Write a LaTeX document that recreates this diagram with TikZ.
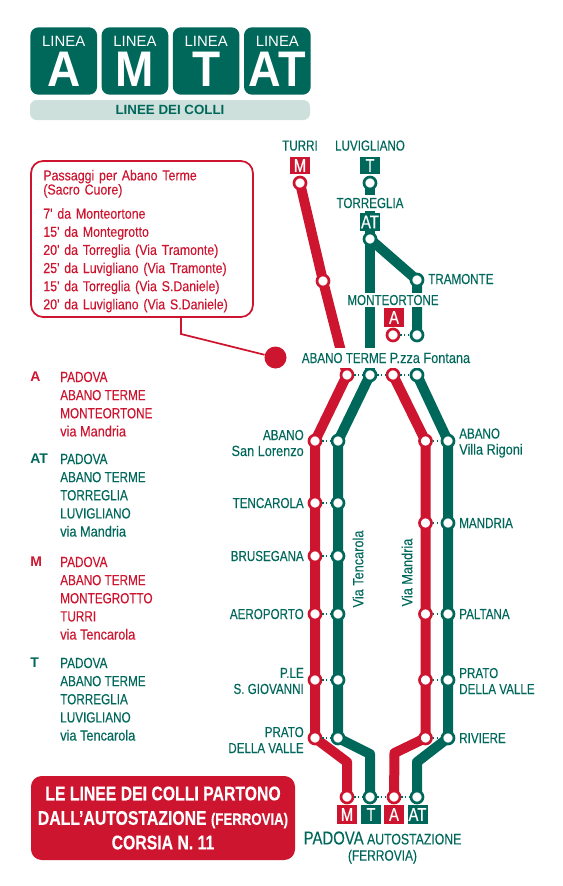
\documentclass[tikz,border=0pt]{standalone}
\usepackage{fontspec}
\setmainfont[FakeStretch=0.8, FakeBold=0.25]{Liberation Sans}
\newfontfamily\widefont{Liberation Sans}
\newfontfamily\narrowfont[FakeStretch=0.86, FakeBold=0.2]{Liberation Sans}
\newcommand{\lowtxt}{\narrowfont\fontsize{11.1}{12}\selectfont}
\usetikzlibrary{positioning, backgrounds}
\definecolor{mygreen}{RGB}{0,104,91}
\definecolor{myred}{RGB}{206,21,48}
\definecolor{mypale}{RGB}{205,224,220}
\tikzset{
  topbox/.style={rectangle, fill=mygreen, rounded corners=6pt, minimum width=50pt, minimum height=50.5pt, inner sep=0pt},
  toplbl/.style={text=white, font=\widefont\fontsize{11.2}{12}\selectfont, inner sep=0pt},
  topletter/.style={text=white, font=\widefont\bfseries\fontsize{37.5}{37.5}\selectfont, inner sep=0pt, xscale=0.92},
  barbox/.style={rectangle, fill=mypale, rounded corners=5pt, minimum width=210pt, minimum height=15pt, inner sep=0pt,
    text=mygreen, font=\widefont\bfseries\fontsize{10}{10}\selectfont},
  redline/.style={line width=7.5pt, color=myred, line join=round},
  greenline/.style={line width=7.5pt, color=mygreen, line join=round},
  redstop/.style={circle, draw=myred, fill=white, line width=2pt, minimum size=9pt, inner sep=0pt},
  greenstop/.style={circle, draw=mygreen, fill=white, line width=2pt, minimum size=9pt, inner sep=0pt},
  link/.style={color=mygreen, line width=0.9pt, dotted},
  redtag/.style={rectangle, fill=myred, text=white, minimum width=15pt, minimum height=14pt, inner sep=0pt, font=\fontsize{14}{14}\selectfont},
  greentag/.style={rectangle, fill=mygreen, text=white, minimum width=15pt, minimum height=14pt, inner sep=0pt, font=\fontsize{14}{14}\selectfont},
  lbl/.style={text=mygreen, inner sep=0pt, align=center, font=\fontsize{10.9}{12}\selectfont},
  lbll/.style={lbl, align=right, anchor=east},
  lblr/.style={lbl, align=left, anchor=west},
  mask/.style={lbl, fill=white},
  legend/.style={inner sep=0pt, align=left, anchor=north west, font=\fontsize{11}{13.6}\selectfont},
  legletter/.style={inner sep=0pt, anchor=north west, font=\widefont\bfseries\fontsize{10.5}{13.6}\selectfont},
  callout/.style={rectangle, draw=myred, fill=white, line width=1.3pt, rounded corners=9pt, minimum height=117pt,
    text=myred, align=left, inner xsep=9.2pt, inner ysep=0pt, text width=148pt, font=\narrowfont\fontsize{10.8}{13.6}\selectfont}
}
\begin{document}
\begin{tikzpicture}[x=0.75pt, y=-0.75pt]
  \path[use as bounding box] (0,0) rectangle (562,886);

  % Header
  \node[topbox] (boxa) at (63.75,61) {};
  \node[topbox, right=3pt of boxa] (boxm) {};
  \node[topbox, right=3pt of boxm] (boxt) {};
  \node[topbox, right=3pt of boxt] (boxat) {};
  \node[toplbl, below=6.5pt of boxa.north] (la) {LINEA};
  \node[toplbl, below=6.5pt of boxm.north] (lm) {LINEA};
  \node[toplbl, below=6.5pt of boxt.north] (lt) {LINEA};
  \node[toplbl, below=6.5pt of boxat.north] (lat) {LINEA};
  \node[topletter, below=3.6pt of la] (a) {A};
  \node[topletter, below=3.6pt of lm] (m) {M};
  \node[topletter, below=3.6pt of lt] (t) {T};
  \node[topletter, below=3.6pt of lat, xscale=0.98] (at) {AT};
  \node[barbox] (bar) at (170,110) {LINEE DEI COLLI};

  % Upper branches
  \node[redstop] (turri) at (300,183) {};
  \node[redstop] (mid) at (323,281) {};
  \node[greenstop] (luv) at (370,183) {};
  \node[greenstop] (torr) at (370,239) {};
  \node[greenstop] (tram) at (417,280) {};
  \node[redstop] (mont) at (393,335) {};
  \node[greenstop] (montg) at (417,335) {};

  % Abano Terme
  \node[redstop] (ab1) at (347,375) {};
  \node[greenstop] (ab2) at (370,375) {};
  \node[redstop] (ab3) at (393,375) {};
  \node[greenstop] (ab4) at (417,375) {};

  % Via Tencarola
  \node[redstop] (lr1) at (315,441) {};
  \node[redstop] (lr2) at (315,503) {};
  \node[redstop] (lr3) at (315,556) {};
  \node[redstop] (lr4) at (315,614) {};
  \node[redstop] (lr5) at (315,680) {};
  \node[redstop] (lr6) at (315,738) {};
  \node[greenstop] (lg1) at (338,441) {};
  \node[greenstop] (lg2) at (338,503) {};
  \node[greenstop] (lg3) at (338,556) {};
  \node[greenstop] (lg4) at (338,614) {};
  \node[greenstop] (lg5) at (338,680) {};
  \node[greenstop] (lg6) at (338,738) {};

  % Via Mandria
  \node[redstop] (rr1) at (425.5,441) {};
  \node[redstop] (rr2) at (425.5,523) {};
  \node[redstop] (rr3) at (425.5,614) {};
  \node[redstop] (rr4) at (425.5,680) {};
  \node[redstop] (rr5) at (425.5,738) {};
  \node[greenstop] (rg1) at (448,441) {};
  \node[greenstop] (rg2) at (448,523) {};
  \node[greenstop] (rg3) at (448,614) {};
  \node[greenstop] (rg4) at (448,680) {};
  \node[greenstop] (rg5) at (448,738) {};

  % Padova
  \node[redstop] (pm) at (347,797) {};
  \node[greenstop] (pt) at (370,797) {};
  \node[redstop] (pa) at (394,797) {};
  \node[greenstop] (pat) at (417,797) {};

  % Tags
  \node[redtag, minimum height=13pt] (tagm) at (300,165.5) {M};
  \node[greentag, minimum height=13pt] (tagt) at (370,165.5) {T};
  \node[greentag] (tagat) at (370,222) {AT};
  \node[redtag] (taga) at (394,317.5) {A};
  \node[redtag] (tagpm) at (347,814.5) {M};
  \node[greentag] (tagpt) at (371,814.5) {T};
  \node[redtag] (tagpa) at (394,814.5) {A};
  \node[greentag] (tagpat) at (417.5,814.5) {AT};

  % Station names
  \node[lbl, above=4.2pt of tagm] (nturri) {TURRI};
  \node[lbl, above=4.2pt of tagt] (nluv) {LUVIGLIANO};
  \node[mask, minimum height=12pt] (ntorr) at (370,203) {TORREGLIA};
  \node[lblr] (ntram) at (428,279) {TRAMONTE};
  \node[mask, minimum height=10.5pt] (nmont) at (393,300) {MONTEORTONE};
  \node[mask, minimum height=15pt] (nabano) at (386,358) {ABANO TERME {\lowtxt P.zza Fontana}};
  \node[lbll] (nl1) at (304,443) {ABANO\\{\lowtxt San Lorenzo}};
  \node[lbll] (nl2) at (304,503) {TENCAROLA};
  \node[lbll] (nl3) at (304,556) {BRUSEGANA};
  \node[lbll] (nl4) at (304,614) {AEROPORTO};
  \node[lbll] (nl5) at (304,681) {P.LE\\S. GIOVANNI};
  \node[lbll] (nl6) at (304,740) {PRATO\\DELLA VALLE};
  \node[lblr] (nr1) at (459,443) {ABANO\\{\lowtxt Villa Rigoni}};
  \node[lblr] (nr2) at (459,523) {MANDRIA};
  \node[lblr] (nr3) at (459,614) {PALTANA};
  \node[lblr] (nr4) at (459,681) {PRATO\\DELLA VALLE};
  \node[lblr] (nr5) at (459,738) {RIVIERE};
  \node[lbl, rotate=90] (viat) at (358,569) {\lowtxt Via Tencarola};
  \node[lbl, rotate=90] (viam) at (407,572.5) {\lowtxt Via Mandria};
  \node[lbl, font=\fontsize{11.5}{13}\selectfont] (npad) at (382.5,838) {{\fontsize{14}{14}\selectfont PADOVA} AUTOSTAZIONE};
  \node[lbl, below=3.5pt of npad, font=\fontsize{11.2}{13}\selectfont] (nferr) {(FERROVIA)};

  % Lines
  \begin{scope}[on background layer]
    \draw[redline] (turri.center) -- (mid.center) -- (ab1.center);
    \draw[greenline] (luv.center) -- (torr.center) -- (ab2.center);
    \draw[greenline] (torr.center) -- (tram.center) -- (montg.center);
    \draw[redline] (ab1.center) -- (lr1.center) -- (lr6.center) -- ++(32,24) coordinate (bend1) -- (pm.center);
    \draw[greenline] (ab2.center) -- (lg1.center) -- (lg6.center) -- ++(32,16) coordinate (bend2) -- (pt.center);
    \draw[redline] (ab3.center) -- (rr1.center) -- (rr5.center) -- ++(-31,15) coordinate (bend3) -- (pa.center);
    \draw[greenline] (ab4.center) -- (rg1.center) -- (rg5.center) -- ++(-31,24) coordinate (bend4) -- (pat.center);
  \end{scope}

  % Dotted links
  \draw[link] (mont) -- (montg);
  \draw[link] (ab1) -- (ab2);
  \draw[link] (ab2) -- (ab3);
  \draw[link] (ab3) -- (ab4);
  \draw[link] (lr1) -- (lg1);
  \draw[link] (lr2) -- (lg2);
  \draw[link] (lr3) -- (lg3);
  \draw[link] (lr4) -- (lg4);
  \draw[link] (lr5) -- (lg5);
  \draw[link] (lr6) -- (lg6);
  \draw[link] (rr1) -- (rg1);
  \draw[link] (rr2) -- (rg2);
  \draw[link] (rr3) -- (rg3);
  \draw[link] (rr4) -- (rg4);
  \draw[link] (rr5) -- (rg5);
  \draw[link] (pm) -- (pt);
  \draw[link] (pt) -- (pa);
  \draw[link] (pa) -- (pat);

  % Info box
  \node[callout] (info) at (142,239) {\rule{0pt}{11pt}Passaggi per Abano Terme\\[-3pt](Sacro Cuore)\\[4.5pt]7' da Monteortone\\15' da Montegrotto\\20' da Torreglia (Via Tramonte)\\25' da Luvigliano (Via Tramonte)\\15' da Torreglia (Via S.Daniele)\\20' da Luvigliano (Via S.Daniele)};
  \node[circle, fill=myred, minimum size=16.5pt, inner sep=0pt] (spot) at (275.5,357.5) {};
  \coordinate (elbow) at (181,334);
  \draw[myred, line width=1.3pt] (181,317) -- (elbow) -- (spot);

  % Legend
  \node[legletter, text=myred] (kay) at (30,372) {A};
  \node[legend, text=myred] (keya) at (60,371.5) {PADOVA\\ABANO TERME\\MONTEORTONE\\{\lowtxt via Mandria}};
  \node[legletter, text=mygreen] (kat) at (30,454) {AT};
  \node[legend, text=mygreen] (keyat) at (60,453.5) {PADOVA\\ABANO TERME\\TORREGLIA\\LUVIGLIANO\\{\lowtxt via Mandria}};
  \node[legletter, text=myred] (kmm) at (30,557) {M};
  \node[legend, text=myred] (keym) at (60,556.5) {PADOVA\\ABANO TERME\\MONTEGROTTO\\TURRI\\{\lowtxt via Tencarola}};
  \node[legletter, text=mygreen] (ktt) at (30,658) {T};
  \node[legend, text=mygreen] (keyt) at (60,657.5) {PADOVA\\ABANO TERME\\TORREGLIA\\LUVIGLIANO\\{\lowtxt via Tencarola}};

  % Footer
  \node[rectangle, fill=myred, rounded corners=8pt, minimum width=198pt, minimum height=63pt, inner sep=0pt, text=white, align=center,
    font=\bfseries\fontsize{14.8}{18.4}\selectfont] (foot) at (163,818) {LE LINEE DEI COLLI PARTONO\\DALL'AUTOSTAZIONE {\fontsize{12.4}{12}\selectfont (FERROVIA)}\\CORSIA N. 11};
\end{tikzpicture}
\end{document}
